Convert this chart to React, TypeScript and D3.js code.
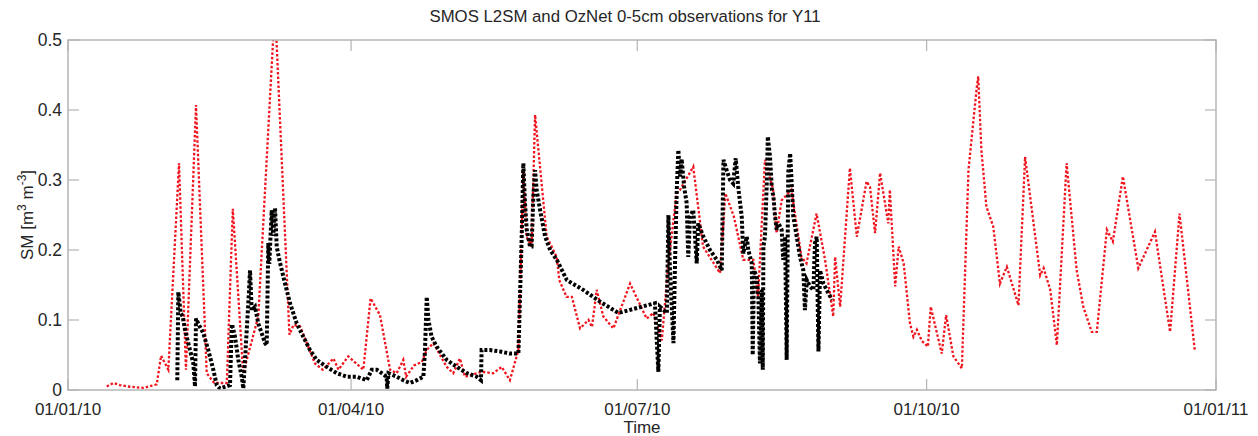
import React from 'react';
import * as d3 from 'd3';

// days since 01/01/2010 and soil moisture values
const smosDays = [
  12.3, 14.4, 16.5, 19, 24, 28.2, 29.6, 31.9, 35.3, 37.5, 40.7, 44.1, 46.5, 50.5, 52.4, 55.7,
  60.5, 65.8, 70.4, 71.7, 73.8, 78.5, 81, 84.4, 86, 89.1, 93.9, 96.2, 99.2, 102.4, 104.5, 106.6,
  107.5, 110, 112.5, 114, 116.2, 120.4, 122.5, 124.6, 126.2, 131.5, 135.2, 137.9, 140.5, 143.2,
  144.8, 145.8, 147.4, 148.5, 152.2, 155.4, 156.2, 158.5, 160.2, 162.8, 165.5, 166.6, 168.1,
  170.2, 173.4, 178.7, 184, 186.1, 188.8, 190.9, 193.5, 194.6, 198.8, 201.9, 207.3, 209, 211.7,
  214.7, 217.9, 219.4, 221.6, 224.2, 225.3, 226.9, 230, 233.2, 234.8, 238, 240.7, 243.3, 243.9,
  245.5, 248.6, 250.8, 253.9, 255, 256.6, 258.2, 260.8, 261.3, 263, 264.1, 265.7, 267.7, 268.8,
  269.9, 271.5, 273.4, 274.3, 277.8, 279.2, 281.5, 284.2, 286.3, 288.9, 289.4, 290.4, 292, 294.2,
  296.3, 298.5, 302.2, 304.3, 309.1, 310.2, 312.3, 314.4, 317.5, 320.7, 322.8, 325.5, 327.1,
  330.3, 332.2, 335.4, 340.3, 345.6, 350.4, 353.4, 358.3,
];
const smosSM = [
  0.005, 0.01, 0.007, 0.005, 0.003, 0.008, 0.049, 0.029, 0.324, 0.029, 0.407, 0.024, 0.01, 0.01, 0.259, 0.024,
  0.105, 0.55, 0.079, 0.093, 0.091, 0.038, 0.029, 0.045, 0.029, 0.048, 0.029, 0.131, 0.107, 0.029, 0.024, 0.043,
  0.019, 0.035, 0.04, 0.057, 0.067, 0.033, 0.024, 0.045, 0.019, 0.026, 0.024, 0.033, 0.014, 0.057,
  0.314, 0.219, 0.205, 0.393, 0.219, 0.19, 0.157, 0.133, 0.133, 0.088, 0.1, 0.09, 0.143,
  0.105, 0.088, 0.152, 0.102, 0.11, 0.071, 0.181, 0.281, 0.286, 0.319, 0.205, 0.167, 0.281, 0.248,
  0.186, 0.186, 0.133, 0.329, 0.286, 0.224, 0.271, 0.286, 0.19, 0.181, 0.252, 0.186, 0.105, 0.19,
  0.119, 0.317, 0.219, 0.298, 0.29, 0.224, 0.31, 0.238, 0.286, 0.148, 0.205, 0.181, 0.095, 0.076,
  0.086, 0.07, 0.062, 0.119, 0.052, 0.107, 0.048, 0.031, 0.314, 0.431, 0.448, 0.343, 0.262, 0.233,
  0.152, 0.176, 0.121, 0.333, 0.164, 0.174, 0.143, 0.064, 0.324, 0.171, 0.119, 0.083, 0.083,
  0.229, 0.212, 0.305, 0.174, 0.226, 0.083, 0.252, 0.055,
];

const ozDays = [
  34.75, 35.07, 35.83, 36.47, 37.2, 38.79, 39.84, 40.38, 40.7, 41.97, 43.02, 44.61, 46.2, 47.28, 48.33,
  51.51, 52.05, 52.37, 53.1, 54.15, 55.23, 55.74, 57.33, 57.87, 58.41, 59.46, 60.5, 61.59, 62.64, 63.18,
  63.69, 64.0, 64.77, 65.28, 65.82, 66.36, 67.19, 69.0, 70.59, 72.72, 74.82, 76.95, 79.08, 82.26, 85.44,
  88.62, 91.8, 94.98, 96.57, 98.16, 99.75, 101.3, 101.5, 101.9, 104.5, 106.6, 108.7, 110.9, 113.0, 113.5,
  114.06, 114.6, 115.6, 117.2, 120.4, 123.6, 126.8, 129.95, 131.3, 131.5, 134.2, 137.4, 140.5, 143.2,
  144.25, 144.77, 145.3, 145.85, 146.9, 147.4, 147.95, 148.5, 149.0, 150.1, 151.7, 153.3, 155.4, 158.6,
  163.8, 169.2, 175.0, 186.6, 187.7, 188.2, 190.4, 190.9, 191.4, 192.5, 193.0, 193.55, 194.06, 194.6,
  195.1, 195.9, 196.7, 197.2, 197.8, 198.8, 199.9, 200.4, 202.0, 204.1, 206.3, 207.85, 208.4, 209.4,
  210.5, 211.5, 212.3, 213.1, 214.2, 214.7, 215.8, 216.3, 217.4, 217.7, 218.1, 218.97, 219.5, 220.0,
  220.6, 220.9, 221.1, 221.6, 222.2, 222.5, 223.2, 223.8, 224.3, 224.8, 225.3, 225.9, 226.9, 227.4,
  228.0, 228.5, 229.0, 229.6, 230.1, 230.6, 231.7, 232.75, 233.8, 234.3, 234.9, 235.9, 237.0, 237.5,
  238.05, 238.6, 239.1, 240.2, 241.8, 242.9,
];
const ozSM = [
  0.014, 0.14, 0.11, 0.105, 0.086, 0.057, 0.038, 0.005, 0.102, 0.09, 0.081, 0.057, 0.029, 0.007, 0.002,
  0.007, 0.09, 0.09, 0.076, 0.043, 0.019, 0.002, 0.124, 0.171, 0.114, 0.119, 0.095, 0.081, 0.067, 0.064,
  0.21, 0.18, 0.257, 0.22, 0.26, 0.205, 0.186, 0.152, 0.124, 0.095, 0.076, 0.057, 0.043, 0.033, 0.024,
  0.019, 0.019, 0.014, 0.029, 0.029, 0.024, 0.019, 0.002, 0.024, 0.019, 0.014, 0.01, 0.014, 0.019, 0.057,
  0.133, 0.1, 0.076, 0.062, 0.043, 0.033, 0.024, 0.019, 0.014, 0.057, 0.057, 0.055, 0.052, 0.052,
  0.219, 0.324, 0.267, 0.229, 0.205, 0.205, 0.276, 0.314, 0.286, 0.257, 0.219, 0.2, 0.186, 0.157,
  0.143, 0.126, 0.11, 0.124, 0.026, 0.119, 0.11, 0.25, 0.171, 0.067, 0.181, 0.286, 0.343, 0.305,
  0.33, 0.29, 0.267, 0.19, 0.248, 0.257, 0.181, 0.238, 0.219, 0.2, 0.186, 0.171, 0.329, 0.314,
  0.3, 0.295, 0.331, 0.29, 0.248, 0.195, 0.219, 0.2, 0.181, 0.05, 0.171, 0.162, 0.133, 0.038,
  0.143, 0.029, 0.205, 0.219, 0.3, 0.362, 0.333, 0.286, 0.276, 0.248, 0.229, 0.238, 0.229, 0.186,
  0.219, 0.043, 0.31, 0.338, 0.295, 0.248, 0.219, 0.19, 0.171, 0.114, 0.157, 0.148, 0.143, 0.21,
  0.219, 0.055, 0.171, 0.152, 0.138, 0.129,
];

const xTickDays = [0, 90, 181, 273, 365];
const xTickLabels = ['01/01/10', '01/04/10', '01/07/10', '01/10/10', '01/01/11'];
const yTicks = [0, 0.1, 0.2, 0.3, 0.4, 0.5];

const START = Date.UTC(2010, 0, 1);
const toDate = (d: number) => new Date(START + d * 864e5);

const W = 1258;
const H = 436;
const left = 68, right = 1216, top = 40, bottom = 390;
const FONT = '"Liberation Sans", Arial, Helvetica, sans-serif';

export default function App() {
  const x = d3.scaleUtc().domain([toDate(0), toDate(365)]).range([left, right]);
  const y = d3.scaleLinear().domain([0, 0.5]).range([bottom, top]);

  const line = d3.line<[number, number]>()
    .x(d => x(toDate(d[0])))
    .y(d => y(d[1]));

  const smos = line(smosDays.map((d, i) => [d, smosSM[i]] as [number, number])) || '';
  const oz = line(ozDays.map((d, i) => [d, ozSM[i]] as [number, number])) || '';

  const axisColor = '#b4b4b4';
  const textColor = '#262626';
  const tickLen = 11;

  return (
    <svg width={W} height={H} style={{ position: 'absolute', left: 0, top: 0, background: '#fff' }}
      fontFamily={FONT}>
      <defs>
        <clipPath id="plotArea">
          <rect x={left} y={top} width={right - left} height={bottom - top} />
        </clipPath>
      </defs>
      <rect x={0} y={0} width={W} height={H} fill="#fff" />

      <text x={625} y={22} textAnchor="middle" fontSize={16.8} fill={textColor}>
        SMOS L2SM and OzNet 0-5cm observations for Y11
      </text>

      <g clipPath="url(#plotArea)">
        <path d={smos} fill="none" stroke="#f0141e" strokeWidth={2.3} strokeDasharray="2.5,2" />
        <path d={oz} fill="none" stroke="#000" strokeWidth={4} strokeDasharray="3,2" />
      </g>

      {/* box */}
      <rect x={left} y={top} width={right - left} height={bottom - top} fill="none"
        stroke={axisColor} strokeWidth={1.5} />

      {/* y ticks */}
      {yTicks.map(t => (
        <g key={'y' + t}>
          <line x1={left} x2={left + tickLen} y1={y(t)} y2={y(t)} stroke={axisColor} strokeWidth={1.2} />
          <line x1={right} x2={right - tickLen} y1={y(t)} y2={y(t)} stroke={axisColor} strokeWidth={1.2} />
          <text x={left - 6} y={y(t)} dy="0.32em" textAnchor="end" fontSize={17.5} fill={textColor}>
            {t === 0 ? '0' : d3.format('.1f')(t)}
          </text>
        </g>
      ))}

      {/* x ticks */}
      {xTickDays.map((d, i) => (
        <g key={'x' + d}>
          <line x1={x(toDate(d))} x2={x(toDate(d))} y1={bottom} y2={bottom - tickLen} stroke={axisColor} strokeWidth={1.2} />
          <line x1={x(toDate(d))} x2={x(toDate(d))} y1={top} y2={top + tickLen} stroke={axisColor} strokeWidth={1.2} />
          <text x={x(toDate(d))} y={415} textAnchor="middle" fontSize={17} fill={textColor}>
            {xTickLabels[i]}
          </text>
        </g>
      ))}

      <text x={(left + right) / 2} y={433} textAnchor="middle" fontSize={17} fill={textColor}>Time</text>

      <text transform="translate(33,215) rotate(-90)" textAnchor="middle" fontSize={17} fill={textColor}>
        SM [m<tspan dy={-7} fontSize={12}>3</tspan><tspan dy={7}> m</tspan><tspan dy={-7} fontSize={12}>-3</tspan><tspan dy={7}>]</tspan>
      </text>
    </svg>
  );
}
